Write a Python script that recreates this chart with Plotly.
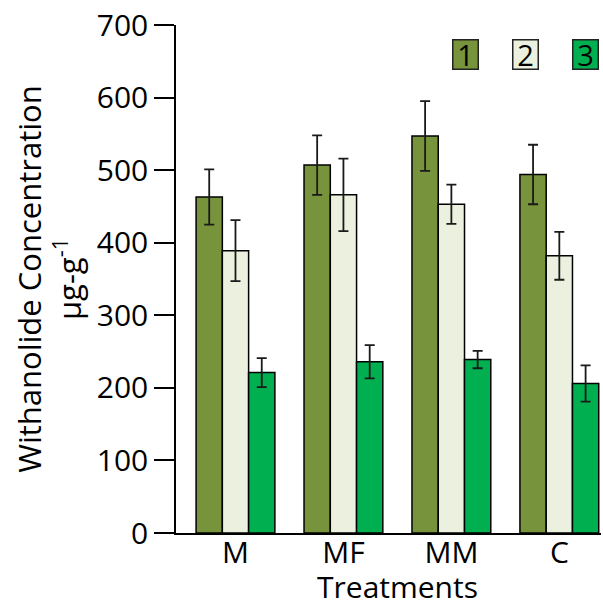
import plotly.graph_objects as go

categories = ["M", "MF", "MM", "C"]
series_names = ["1", "2", "3"]
s1 = [463, 507, 547, 494]
s1_err = [38, 41, 48, 41]
s2 = [389, 466, 453, 382]
s2_err = [42, 50, 27, 33]
s3 = [221, 236, 239, 206]
s3_err = [20, 23, 12, 25]
colors = ["#77933C", "#EBF1DE", "#00B050"]

FONT = "Open Sans"

fig = go.Figure()
for name, vals, errs, col in zip(series_names, [s1, s2, s3], [s1_err, s2_err, s3_err], colors):
    fig.add_trace(go.Bar(
        x=categories, y=vals, name=name,
        marker=dict(color=col, line=dict(color="black", width=1.5)),
        error_y=dict(type="data", array=errs, visible=True, color="#1a1a1a", thickness=1.8, width=5),
        showlegend=False,
    ))

# legend boxes drawn as annotations
leg_x = [0.682, 0.8235, 0.963]
for name, col, lx in zip(series_names, colors, leg_x):
    fig.add_annotation(
        x=lx, y=0.941, xref="paper", yref="paper", text=name, showarrow=False,
        xanchor="center", yanchor="middle",
        font=dict(family=FONT, size=29, color="black"),
        bgcolor=col, bordercolor="#222", borderwidth=1.5, borderpad=0,
        width=24, height=28,
    )

# x-axis title
fig.add_annotation(
    x=0.522, y=-0.106, xref="paper", yref="paper", text="Treatments", showarrow=False,
    xanchor="center", yanchor="middle", font=dict(family=FONT, size=30, color="black"),
)

fig.update_layout(
    width=603, height=603,
    margin=dict(l=176, r=2, t=25, b=70, autoexpand=False),
    paper_bgcolor="white", plot_bgcolor="white",
    barmode="group", bargap=0.27, bargroupgap=0.0,
    font=dict(family=FONT, size=30, color="black"),
    xaxis=dict(
        range=[-0.551, 3.386], showline=True, linecolor="black", linewidth=1.5,
        ticks="", showgrid=False, tickfont=dict(size=30), automargin=False,
        ticklabelstandoff=-8,
    ),
    yaxis=dict(
        range=[0, 700], dtick=100, showline=True, linecolor="black", linewidth=1.5,
        ticks="outside", ticklen=20, tickwidth=1.5, tickcolor="black",
        showgrid=False, zeroline=False, tickfont=dict(size=30), automargin=False,
        title=dict(text="Withanolide Concentration<br>μg-g<sup>-1</sup>", font=dict(size=31), standoff=6),
    ),
)

fig.write_html("out.html", config={"displayModeBar": False},
               post_script="document.body.style.margin='0px';")
